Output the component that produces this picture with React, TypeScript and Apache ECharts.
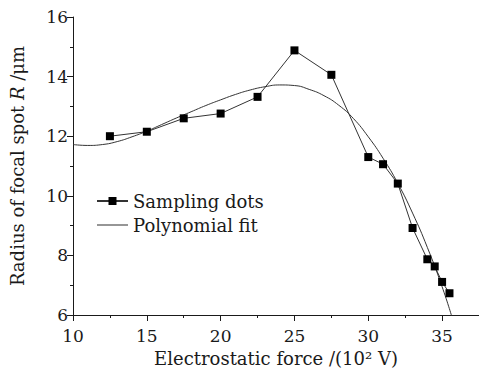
import React, { useEffect, useRef } from "react";
import * as echarts from "echarts";

const sampleX = [12.5, 15, 17.5, 20, 22.5, 25, 27.5, 30, 31, 32, 33, 34, 34.5, 35, 35.5];
const sampleY = [12.0, 12.15, 12.6, 12.76, 13.32, 14.88, 14.06, 11.3, 11.06, 10.41, 8.92, 7.87, 7.63, 7.11, 6.73];

const fitX = [10, 11, 12, 13, 14, 15, 16, 17, 18, 19, 20, 21, 22, 23, 24, 25, 26, 27, 28, 29, 30, 31, 32, 33, 34, 35, 35.7];
const fitY = [11.72, 11.69, 11.72, 11.82, 11.98, 12.17, 12.39, 12.61, 12.82, 13.03, 13.22, 13.4, 13.55, 13.66, 13.72, 13.7, 13.57, 13.36, 13.04, 12.59, 11.98, 11.26, 10.42, 9.42, 8.27, 6.95, 5.88];

const seriesNames = ["Sampling dots", "Polynomial fit"];

const FONT = "DejaVu Serif";

export default function App() {
  const ref = useRef<HTMLDivElement>(null);
  useEffect(() => {
    if (!ref.current) return;
    const chart = echarts.init(ref.current, null, { renderer: "svg" });
    const ink = "#1a1a1a";
    chart.setOption({
      animation: false,
      backgroundColor: "#ffffff",
      textStyle: { fontFamily: FONT, color: ink },
      grid: { left: 67, top: 17, bottom: 55, right: -2, containLabel: false },
      legend: {
        orient: "vertical",
        left: 91,
        top: 187,
        itemWidth: 31,
        itemHeight: 10,
        itemGap: 6,
        textStyle: { fontFamily: FONT, fontSize: 18, color: ink },
        data: [
          { name: seriesNames[0] },
          { name: seriesNames[1], icon: "path://M0,0 L30,0 L30,1 L0,1 Z" },
        ],
      },
      xAxis: {
        type: "value",
        min: 10,
        max: 37.5,
        interval: 5,
        name: "Electrostatic force /(10² V)",
        nameLocation: "middle",
        nameGap: 34,
        nameTextStyle: { fontFamily: FONT, fontSize: 18, color: ink },
        axisLine: { lineStyle: { color: ink, width: 1 } },
        axisTick: { show: true, length: 6, inside: false, lineStyle: { color: ink } },
        minorTick: { show: true, splitNumber: 2, length: 3, lineStyle: { color: ink } },
        splitLine: { show: false },
        axisLabel: {
          fontFamily: FONT,
          fontSize: 17,
          color: ink,
          margin: 12,
          showMaxLabel: false,
        },
      },
      yAxis: {
        type: "value",
        min: 6,
        max: 16,
        interval: 2,
        name: "Radius of focal spot {i|R} /μm",
        nameLocation: "middle",
        nameRotate: 90,
        nameGap: 47,
        nameTextStyle: {
          fontFamily: FONT,
          fontSize: 18,
          color: ink,
          rich: { i: { fontStyle: "italic", fontFamily: FONT, fontSize: 18, color: ink } },
        },
        axisLine: { show: true, lineStyle: { color: ink, width: 1 } },
        axisTick: { show: true, length: 6, inside: false, lineStyle: { color: ink } },
        minorTick: { show: true, splitNumber: 2, length: 3, lineStyle: { color: ink } },
        splitLine: { show: false },
        axisLabel: { fontFamily: FONT, fontSize: 17, color: ink, margin: 5 },
      },
      series: [
        {
          name: seriesNames[0],
          type: "line",
          data: sampleX.map((x, i) => [x, sampleY[i]]),
          symbol: "rect",
          symbolSize: 8,
          itemStyle: { color: "#000000" },
          lineStyle: { color: "#333333", width: 1 },
          z: 3,
        },
        {
          name: seriesNames[1],
          type: "line",
          data: fitX.map((x, i) => [x, fitY[i]]),
          symbol: "none",
          smooth: true,
          itemStyle: { color: "#333333" },
          lineStyle: { color: "#333333", width: 1 },
          z: 2,
        },
      ],
    });
    return () => chart.dispose();
  }, []);
  return (
    <div
      ref={ref}
      style={{ position: "absolute", left: 0, top: 0, width: 479, height: 372 }}
    />
  );
}
